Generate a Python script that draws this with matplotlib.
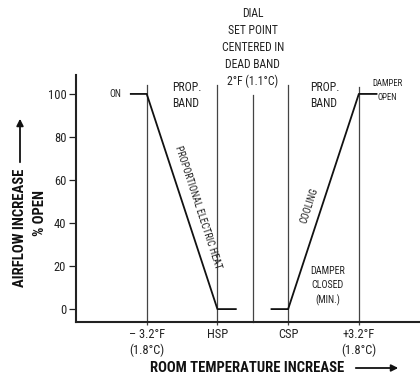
import matplotlib
matplotlib.use("Agg")
import matplotlib.pyplot as plt
from matplotlib import font_manager as fm
import numpy as np

# ---- data ----
heat_x = [-3.45, -3.0, -1.0, -0.48]
heat_y = [100, 100, 0, 0]
cool_x = [0.53, 1.0, 3.0, 3.5]
cool_y = [0, 0, 100, 100]
band_x = [-3.0, -1.0, 0.0, 1.0, 3.0]
band_top = [104.2, 104.2, 99.5, 104.2, 103.3]
tick_pos = [-3.0, -1.0, 1.0, 3.0]
tick_labels = ["\u2013 3.2\u00b0F\n(1.8\u00b0C)", "HSP", "CSP", "+3.2\u00b0F\n(1.8\u00b0C)"]
y_ticks = [0, 20, 40, 60, 80, 100]

names = {f.name for f in fm.fontManager.ttflist}
fam = "DejaVu Sans"
for cand in ["Liberation Sans Narrow", "Roboto Condensed", "Open Sans Condensed", "Liberation Sans"]:
    if cand in names:
        fam = cand
        break
plt.rcParams['font.family'] = [fam, 'DejaVu Sans']

fig = plt.figure(figsize=(4.2, 3.75), dpi=100)
ax = fig.add_axes([76/420, 1-322/375, 1-76/420, (322-75)/375])
ax.set_xlim(-5.0, 4.73)
ax.set_ylim(-6.0, 108.8)

for s in ['top', 'right']:
    ax.spines[s].set_visible(False)
for s in ['left', 'bottom']:
    ax.spines[s].set_linewidth(1.5)
    ax.spines[s].set_color('#222222')

for xv, top in zip(band_x, band_top):
    ax.plot([xv, xv], [-6.0, top], color='#444444', lw=0.9, clip_on=False)

ax.plot(heat_x, heat_y, color='#111111', lw=1.3)
ax.plot(cool_x, cool_y, color='#111111', lw=1.3)

ax.set_yticks(y_ticks)
ax.set_yticklabels([str(v) for v in y_ticks], fontsize=9, color='#222222')
ax.tick_params(axis='y', length=5, width=0.9, pad=2, colors='#222222')
ax.set_xticks(tick_pos)
ax.set_xticklabels(tick_labels, fontsize=9, color='#222222', linespacing=1.2)
ax.tick_params(axis='x', length=2.5, width=0.9, pad=2, colors='#444444')
for t in ax.get_xticklabels():
    t.set_color('#222222')

tc = '#222222'
ax.text(-3.88, 100, "ON", fontsize=7, ha='center', va='center', color=tc)
ax.text(-2.29, 99.3, "PROP.\nBAND", fontsize=8.5, ha='left', va='center', color=tc, linespacing=1.27)
ax.text(1.61, 99.3, "PROP.\nBAND", fontsize=8.5, ha='left', va='center', color=tc, linespacing=1.27)
ax.text(3.8, 101.6, "DAMPER\nOPEN", fontsize=6.3, ha='center', va='center', color=tc, linespacing=1.6)
ax.text(0.0, 121.6, "DIAL\nSET POINT\nCENTERED IN\nDEAD BAND\n2\u00b0F (1.1\u00b0C)", fontsize=8.4,
        ha='center', va='center', color=tc, linespacing=1.39, clip_on=False)
ax.text(2.12, 10.7, "DAMPER\nCLOSED\n(MIN.)", fontsize=7.2, ha='center', va='center', color=tc, linespacing=1.5)

def screen_angle(x0, y0, x1, y1):
    p0 = ax.transData.transform((x0, y0))
    p1 = ax.transData.transform((x1, y1))
    return np.degrees(np.arctan2(p1[1]-p0[1], p1[0]-p0[0]))

a_heat = screen_angle(heat_x[1], heat_y[1], heat_x[2], heat_y[2])
a_cool = screen_angle(cool_x[1], cool_y[1], cool_x[2], cool_y[2])
ax.text(-1.56, 47.4, "PROPORTIONAL ELECTRIC HEAT", fontsize=7.2, rotation=a_heat,
        ha='center', va='center', rotation_mode='anchor', color=tc)
ax.text(1.61, 47.9, "COOLING", fontsize=7.2, rotation=a_cool,
        ha='center', va='center', rotation_mode='anchor', color=tc)

# axis titles with arrows
fig.text(20/420, 1-228/375, "AIRFLOW INCREASE", rotation=90, fontsize=10.5, fontweight='bold',
         ha='center', va='center', color='#111111')
fig.text(40/420, 1-213/375, "% OPEN", rotation=90, fontsize=10.5, fontweight='bold',
         ha='center', va='center', color='#111111')
fig.text(247/420, 1-368/375, "ROOM TEMPERATURE INCREASE", fontsize=10.5, fontweight='bold',
         ha='center', va='center', color='#111111')
fig.add_artist(matplotlib.patches.FancyArrowPatch((20/420, 1-165/375), (20/420, 1-116/375),
               transform=fig.transFigure, arrowstyle='-|>', mutation_scale=10, lw=1.3, color='#111111'))
fig.add_artist(matplotlib.patches.FancyArrowPatch((353/420, 1-368/375), (401/420, 1-368/375),
               transform=fig.transFigure, arrowstyle='-|>', mutation_scale=10, lw=1.3, color='#111111'))

fig.savefig("out.png", dpi=100)
